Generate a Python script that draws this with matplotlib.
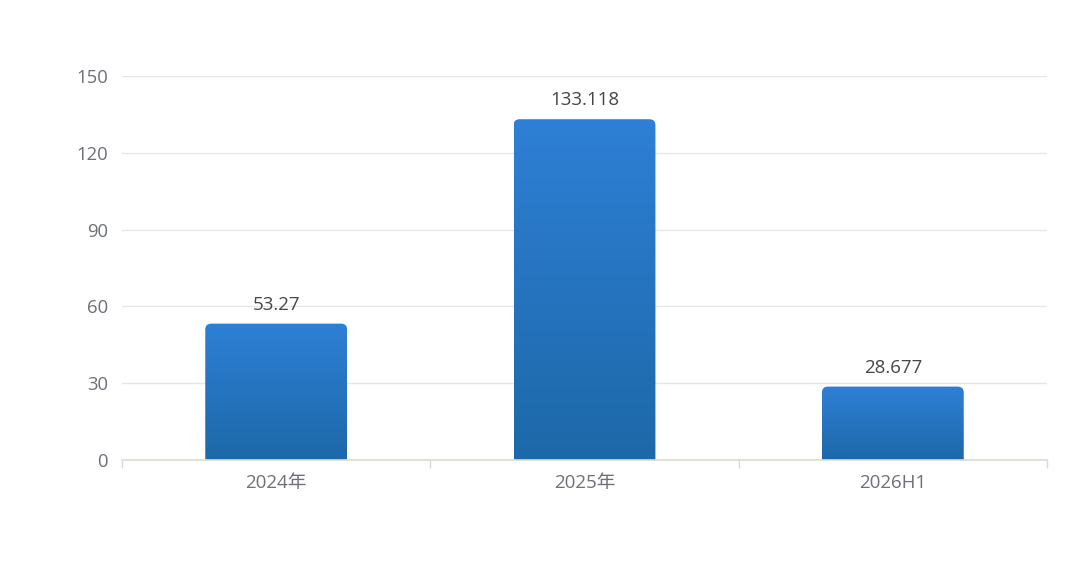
import numpy as np
import matplotlib.pyplot as plt
from matplotlib.patches import FancyBboxPatch
from matplotlib.colors import LinearSegmentedColormap

plt.rcParams['font.family'] = ['Open Sans', 'Noto Sans CJK SC', 'DejaVu Sans']

# data
categories = ['2024年', '2025年', '2026H1']
values = [53.27, 133.118, 28.677]
labels = ['53.27', '133.118', '28.677']
y_ticks = [0, 30, 60, 90, 120, 150]

fig = plt.figure(figsize=(10.8, 5.61), dpi=100)
ax = fig.add_axes([122 / 1080, 1 - 460 / 561, 925 / 1080, 384 / 561])

x = np.arange(len(categories))
bars = ax.bar(x, values, width=0.46, color='none')

ax.set_xlim(-0.5, len(categories) - 0.5)
ax.set_ylim(0, 150)
ax.set_yticks(y_ticks)
ax.set_xticks(x)
ax.set_xticklabels(categories)
ax.set_xticks(np.arange(len(categories) + 1) - 0.5, minor=True)

# pixel -> data scale for rounded corners
px_x = 3 / 925
px_y = 150 / 384
radius = 6

cmap = LinearSegmentedColormap.from_list('bar', ['#1d68a8', '#2e80d6'])
grad = np.linspace(0, 1, 256).reshape(-1, 1)

for rect in bars:
    x0 = rect.get_x()
    w = rect.get_width()
    h = rect.get_height()
    r = radius * px_x
    patch = FancyBboxPatch((x0, -20), w, h + 20,
                           boxstyle=f'round,pad=0,rounding_size={r}',
                           mutation_aspect=px_y / px_x,
                           facecolor='none', edgecolor='none', zorder=2)
    ax.add_patch(patch)
    im = ax.imshow(grad, cmap=cmap, origin='lower', aspect='auto',
                   extent=(x0, x0 + w, 0, h), zorder=2)
    im.set_clip_path(patch)

for xi, v, lab in zip(x, values, labels):
    ax.annotate(lab, (xi, v), xytext=(0, 7), textcoords='offset points',
                ha='center', va='bottom', fontsize=13.5, color='#464646')

ax.set_xlim(-0.5, len(categories) - 0.5)
ax.set_ylim(0, 150)

ax.grid(axis='y', color='#e6e6e6', linewidth=1)
ax.set_axisbelow(True)
for side in ['top', 'right', 'left']:
    ax.spines[side].set_visible(False)
ax.spines['bottom'].set_color('#dcdccc')
ax.spines['bottom'].set_linewidth(1.2)
ax.spines['bottom'].set_zorder(3)

ax.tick_params(axis='y', length=0, pad=10, labelsize=13.3, labelcolor='#6e7079')
ax.tick_params(axis='x', which='major', length=0, pad=10, labelsize=13.5,
               labelcolor='#6e7079')
ax.tick_params(axis='x', which='minor', length=6, color='#d8d8d8', width=1)

fig.savefig('out.png', dpi=100)
